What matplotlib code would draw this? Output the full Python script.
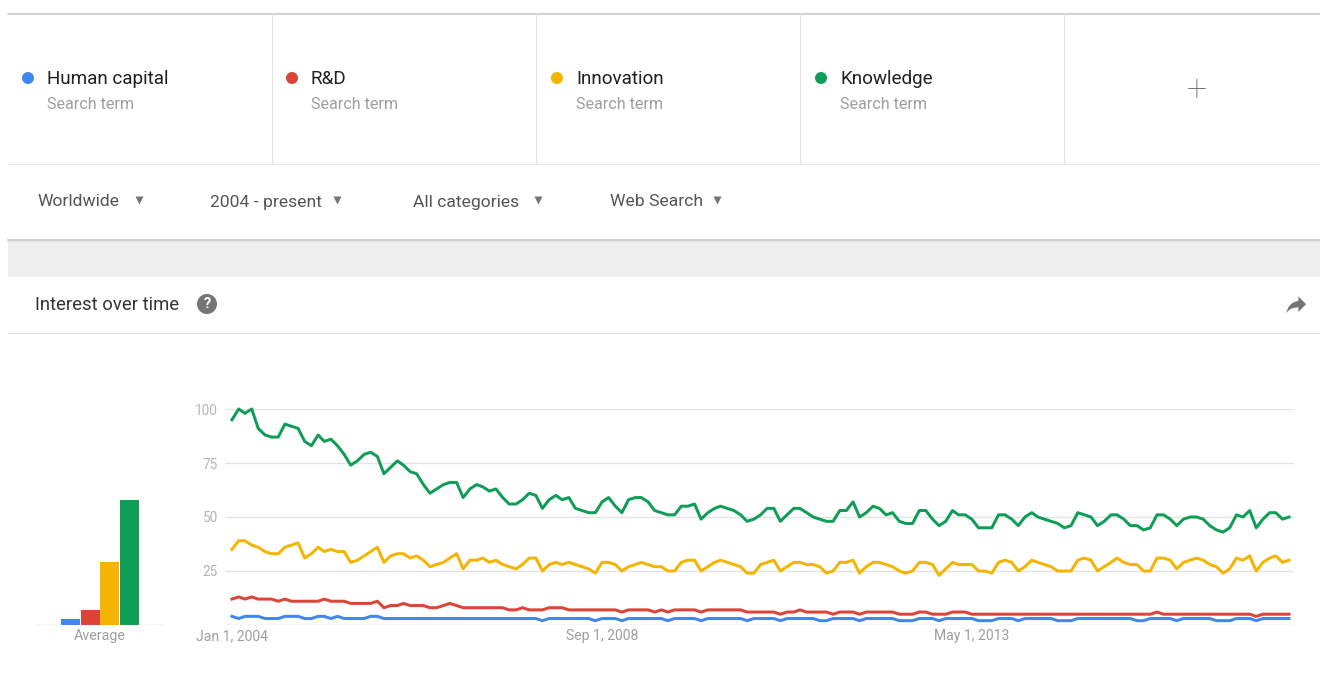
import numpy as np
import pandas as pd
import matplotlib
matplotlib.use("Agg")
import matplotlib.pyplot as plt
import matplotlib.dates as mdates
from matplotlib.patches import Circle, Rectangle, PathPatch
from matplotlib.path import Path

plt.rcParams['font.family'] = ['Roboto', 'DejaVu Sans']

# ------------------------------------------------------------
# Data (monthly 2004-01 .. 2017-05)
# ------------------------------------------------------------
terms = ["Human capital", "R&D", "Innovation", "Knowledge"]
colors = ["#4285f4", "#db4437", "#f4b400", "#0f9d58"]
averages = [3, 7, 29, 58]

human_capital = [
    4, 3, 4, 4, 4, 3, 3, 3, 4, 4,
    4, 3, 3, 4, 4, 3, 4, 3, 3, 3,
    3, 4, 4, 3, 3, 3, 3, 3, 3, 3,
    3, 3, 3, 3, 3, 3, 3, 3, 3, 3,
    3, 3, 3, 3, 3, 3, 3, 2, 3, 3,
    3, 3, 3, 3, 3, 2, 3, 3, 3, 2,
    3, 3, 3, 3, 3, 3, 2, 3, 3, 3,
    3, 2, 3, 3, 3, 3, 3, 3, 2, 3,
    3, 3, 3, 2, 3, 3, 3, 3, 3, 2,
    2, 3, 3, 3, 3, 2, 3, 3, 3, 3,
    3, 2, 2, 2, 3, 3, 3, 2, 3, 3,
    3, 3, 3, 2, 2, 2, 3, 3, 3, 2,
    3, 3, 3, 3, 3, 2, 2, 2, 3, 3,
    3, 3, 3, 3, 3, 3, 3, 2, 2, 3,
    3, 3, 3, 2, 3, 3, 3, 3, 3, 2,
    2, 2, 3, 3, 3, 2, 3, 3, 3, 3,
    3]
r_and_d = [
    12, 13, 12, 13, 12, 12, 12, 11, 12, 11,
    11, 11, 11, 11, 12, 11, 11, 11, 10, 10,
    10, 10, 11, 8, 9, 9, 10, 9, 9, 9,
    8, 8, 9, 10, 9, 8, 8, 8, 8, 8,
    8, 8, 7, 7, 8, 7, 7, 7, 8, 8,
    8, 7, 7, 7, 7, 7, 7, 7, 7, 6,
    7, 7, 7, 7, 6, 7, 6, 7, 7, 7,
    7, 6, 7, 7, 7, 7, 7, 7, 6, 6,
    6, 6, 6, 5, 6, 6, 7, 6, 6, 6,
    6, 5, 6, 6, 6, 5, 6, 6, 6, 6,
    6, 5, 5, 5, 6, 6, 5, 5, 5, 6,
    6, 6, 5, 5, 5, 5, 5, 5, 5, 5,
    5, 5, 5, 5, 5, 5, 5, 5, 5, 5,
    5, 5, 5, 5, 5, 5, 5, 5, 5, 5,
    6, 5, 5, 5, 5, 5, 5, 5, 5, 5,
    5, 5, 5, 5, 5, 4, 5, 5, 5, 5,
    5]
innovation = [
    35, 39, 39, 37, 36, 34, 33, 33, 36, 37,
    38, 31, 33, 36, 34, 35, 34, 34, 29, 30,
    32, 34, 36, 29, 32, 33, 33, 31, 32, 30,
    27, 28, 29, 31, 33, 26, 30, 30, 31, 29,
    30, 28, 27, 26, 28, 31, 31, 25, 28, 29,
    28, 29, 28, 27, 26, 24, 29, 29, 28, 25,
    27, 28, 29, 28, 27, 27, 25, 25, 29, 30,
    30, 25, 27, 29, 30, 29, 28, 27, 24, 24,
    28, 29, 30, 25, 27, 29, 29, 28, 28, 27,
    24, 25, 29, 29, 30, 24, 27, 29, 29, 28,
    27, 25, 24, 25, 29, 29, 28, 23, 26, 29,
    28, 28, 28, 25, 25, 24, 29, 30, 29, 25,
    27, 30, 29, 28, 27, 25, 25, 25, 30, 31,
    30, 25, 27, 29, 31, 29, 28, 28, 25, 25,
    31, 31, 30, 26, 29, 30, 31, 30, 28, 27,
    24, 26, 31, 30, 32, 25, 29, 31, 32, 29,
    30]
knowledge = [
    95, 100, 98, 100, 91, 88, 87, 87, 93, 92,
    91, 85, 83, 88, 85, 86, 83, 79, 74, 76,
    79, 80, 78, 70, 73, 76, 74, 71, 70, 65,
    61, 63, 65, 66, 66, 59, 63, 65, 64, 62,
    63, 59, 56, 56, 58, 61, 60, 54, 58, 60,
    58, 59, 54, 53, 52, 52, 57, 59, 55, 52,
    58, 59, 59, 57, 53, 52, 51, 51, 55, 55,
    56, 49, 52, 54, 55, 54, 53, 51, 48, 49,
    51, 54, 54, 48, 51, 54, 54, 52, 50, 49,
    48, 48, 53, 53, 57, 50, 52, 55, 54, 51,
    52, 48, 47, 47, 53, 53, 49, 46, 48, 53,
    51, 51, 49, 45, 45, 45, 51, 51, 49, 46,
    50, 52, 50, 49, 48, 47, 45, 46, 52, 51,
    50, 46, 48, 51, 51, 49, 46, 46, 44, 45,
    51, 51, 49, 46, 49, 50, 50, 49, 46, 44,
    43, 45, 51, 50, 53, 45, 49, 52, 52, 49,
    50]
series = [human_capital, r_and_d, innovation, knowledge]

dates = pd.date_range("2004-01-01", periods=len(knowledge), freq="MS")
tick_dates = pd.to_datetime(["2004-01-01", "2008-09-01", "2013-05-01"])
tick_labels = ["Jan 1, 2004", "Sep 1, 2008", "May 1, 2013"]
y_ticks = [25, 50, 75, 100]

filters = ["Worldwide", "2004 - present", "All categories", "Web Search"]

# ------------------------------------------------------------
# Figure (pixel based layout, 1320 x 700)
# ------------------------------------------------------------
W, H = 1320, 700
fig = plt.figure(figsize=(W / 100, H / 100), dpi=100)
fig.patch.set_facecolor("white")

def rect(l, t, r, b):
    return [l / W, 1 - b / H, (r - l) / W, (b - t) / H]

ui = fig.add_axes([0, 0, 1, 1])
ui.set_xlim(0, W)
ui.set_ylim(H, 0)
ui.axis("off")

px = 0.72  # 1 px in points

# header card
ui.plot([8, W], [12.5, 12.5], color="#ececec", lw=1 * px)
ui.plot([8, W], [13.8, 13.8], color="#c9c9c9", lw=1.5 * px)
for xd in [272, 536, 800, 1064]:
    ui.plot([xd, xd], [14, 163], color="#e3e3e3", lw=1 * px)
ui.plot([8, W], [163.5, 163.5], color="#e3e3e3", lw=1 * px)

term_x = [28, 292, 557, 821]
for x0, term, c in zip(term_x, terms, colors):
    ui.add_patch(Circle((x0, 78), 6, color=c, lw=0))
    ui.text(x0 + 19, 78.5, term, fontsize=13.6, color="#212121", va="center", ha="left")
    ui.text(x0 + 19, 104.5, "Search term", fontsize=11.6, color="#9e9e9e", va="center", ha="left")
ui.text(1197, 91, "+", fontsize=26, color="#757575", va="center", ha="center",
        fontweight="light")

# filter row
filter_x = [37, 210, 413, 610]
arrow_x = [139, 337, 538, 717]
for x0, xa, lab in zip(filter_x, arrow_x, filters):
    ui.text(x0, 202, lab, fontsize=12.6, color="#555555", va="center", ha="left")
    ui.plot([xa], [200], marker="v", ms=5.5, color="#757575", mec="none")

# bottom edge + grey band
ui.add_patch(Rectangle((8, 240), W - 8, 37, color="#eeeeee", lw=0))
ui.plot([8, W], [239.5, 239.5], color="#c4c4c4", lw=1.5 * px)
ui.plot([8, W], [241, 241], color="#e2e2e2", lw=1 * px)

# Interest over time row
ui.text(35, 305.5, "Interest over time", fontsize=13.3, color="#333333", va="center", ha="left")
ui.add_patch(Circle((207, 304), 10, color="#757575", lw=0))
ui.text(207, 304.5, "?", fontsize=10.5, color="white", va="center", ha="center", fontweight="bold")
ui.plot([8, W], [332.5, 332.5], color="#e3e3e3", lw=1 * px)

# share icon
icon = [(14, 9), (14, 5), (21, 12), (14, 19), (14, 14.9),
        (9, 14.9), (5.5, 16.5), (3, 20), (4, 15), (7, 10), (14, 9), (14, 9)]
codes = [Path.MOVETO, Path.LINETO, Path.LINETO, Path.LINETO, Path.LINETO,
         Path.CURVE4, Path.CURVE4, Path.CURVE4, Path.CURVE4, Path.CURVE4, Path.CURVE4,
         Path.CLOSEPOLY]
icon_px = [(1283 + 1.1 * x, 291 + 1.1 * y) for x, y in icon]
ui.add_patch(PathPatch(Path(icon_px, codes), color="#757575", lw=0))

# ------------------------------------------------------------
# Average bars
# ------------------------------------------------------------
axb = fig.add_axes(rect(35, 409, 165, 625))
axb.patch.set_alpha(0)
axb.bar(np.arange(len(averages)), averages, width=0.96, color=colors)
axb.set_xlim(-1.833, 4.833)
axb.set_ylim(0, 100)
axb.axhline(0, color="#9e9e9e", lw=1.2 * px)
for s in axb.spines.values():
    s.set_visible(False)
axb.set_yticks([])
axb.set_xticks([1.5])
axb.set_xticklabels(["Average"], fontsize=10.3, color="#9e9e9e")
axb.tick_params(axis="x", length=0, pad=3)

# ------------------------------------------------------------
# Interest over time lines
# ------------------------------------------------------------
ax = fig.add_axes(rect(225, 409, 1294, 625))
ax.patch.set_alpha(0)
for vals, c in zip(series, colors):
    ax.plot(dates, vals, color=c, lw=3 * px, clip_on=False, solid_joinstyle="round")
for yv in y_ticks:
    ax.axhline(yv, color="#e3e3e3", lw=1.3 * px, zorder=0)
ax.axhline(0, color="#9e9e9e", lw=1.2 * px, zorder=0)
d0 = mdates.date2num(dates[0])
d1 = mdates.date2num(dates[-1])
ax.set_xlim(d0 - 32, d1 + 23)
ax.set_ylim(0, 100)
for s in ax.spines.values():
    s.set_visible(False)
ax.set_yticks(y_ticks)
ax.set_yticklabels([str(v) for v in y_ticks], fontsize=9.8, color="#b5b5b5")
ax.set_xticks(tick_dates)
ax.set_xticklabels(tick_labels, fontsize=10.1, color="#9e9e9e")
ax.tick_params(axis="both", length=0)
ax.tick_params(axis="y", pad=5)
ax.tick_params(axis="x", pad=3)

fig.savefig("out.png", dpi=100, facecolor="white")
